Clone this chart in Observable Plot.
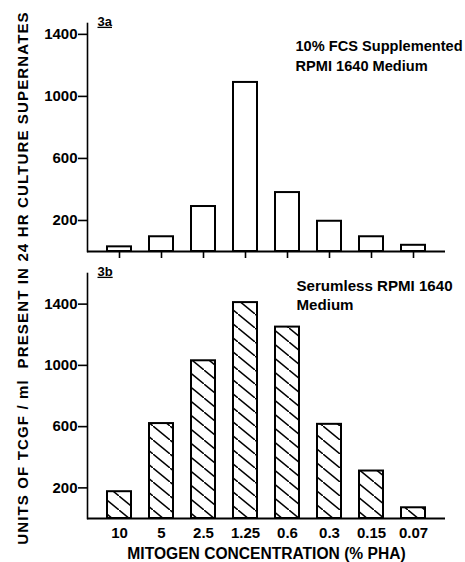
<!DOCTYPE html>
<html>
<head>
<meta charset="utf-8">
<script src="https://cdn.jsdelivr.net/npm/d3@7"></script>
<script src="https://cdn.jsdelivr.net/npm/@observablehq/plot@0.6"></script>
<style>
  html, body { margin: 0; padding: 0; background: #fff; }
  #wrap { position: relative; width: 465px; height: 562px; overflow: hidden; font-family: "Liberation Sans", Arial, sans-serif; background: #fff; }
  #wrap svg { position: absolute; left: 0; overflow: visible; }
  #ytitle { position: absolute; left: 22px; top: 278px; transform: translate(-50%, -50%) rotate(-90deg); z-index: 5;
    white-space: nowrap; font-size: 15px; font-weight: bold; color: #000; letter-spacing: 1.15px; }
</style>
</head>
<body>
<div id="wrap"><div id="ytitle">UNITS OF TCGF / ml&nbsp;&nbsp;PRESENT IN 24 HR CULTURE SUPERNATES</div></div>
<script>
const concentrations = ["10", "5", "2.5", "1.25", "0.6", "0.3", "0.15", "0.07"];
const fcsValues = [30, 95, 290, 1090, 380, 195, 95, 40];
const serumlessValues = [175, 620, 1030, 1410, 1250, 615, 310, 70];
const yTicks = [200, 600, 1000, 1400];
const xTitle = "MITOGEN CONCENTRATION (% PHA)";
const topLabel = "3a";
const bottomLabel = "3b";
const topNote = "10% FCS Supplemented\nRPMI 1640 Medium";
const bottomNote = "Serumless RPMI 1640\nMedium";

const topData = concentrations.map((c, i) => ({conc: c, value: fcsValues[i]}));
const bottomData = concentrations.map((c, i) => ({conc: c, value: serumlessValues[i]}));

const font = {fontFamily: "'Liberation Sans', Arial, sans-serif", fontSize: "15px", fontWeight: "bold", color: "black"};
const xScale = {domain: concentrations, paddingInner: 0.43, paddingOuter: 0.476, align: 0.5};
const fmt = d => String(d);

const wrap = document.getElementById("wrap");

const topPlot = Plot.plot({
  width: 465, height: 258,
  marginLeft: 87, marginRight: 20, marginTop: 23, marginBottom: 7,
  style: font,
  x: {...xScale, axis: null},
  y: {domain: [0, 1470], axis: null},
  marks: [
    Plot.barY(topData, {x: "conc", y: "value", fill: "white", stroke: "black", strokeWidth: 2}),
    Plot.ruleY([0], {strokeWidth: 2}),
    Plot.frame({anchor: "left", strokeWidth: 1.6}),
    Plot.axisY({ticks: yTicks, tickFormat: fmt, tickSize: 9, tickPadding: 1, strokeWidth: 1.6, label: null}),
    Plot.axisX({tickSize: 7, tickFormat: () => "", strokeWidth: 1.6, label: null}),
    Plot.text([topLabel], {frameAnchor: "top-left", dx: 10, dy: -7, textAnchor: "start", lineAnchor: "top", fontSize: 13}),
    Plot.text([topNote], {frameAnchor: "top-left", dx: 208, dy: 14, textAnchor: "start", lineAnchor: "top", fontSize: 14.6, lineHeight: 1.35})
  ]
});
topPlot.style.top = "0px";
wrap.appendChild(topPlot);

const bottomPlot = Plot.plot({
  width: 465, height: 304,
  marginLeft: 87, marginRight: 20, marginTop: 15, marginBottom: 44,
  style: font,
  x: {...xScale, axis: null},
  y: {domain: [0, 1600], axis: null},
  marks: [
    Plot.barY(bottomData, {x: "conc", y: "value", fill: "white"}),
    Plot.barY(bottomData, {x: "conc", y: "value", fill: "url(#hatch)", stroke: "black", strokeWidth: 2}),
    Plot.ruleY([0], {strokeWidth: 2}),
    Plot.frame({anchor: "left", strokeWidth: 1.6}),
    Plot.axisY({ticks: yTicks, tickFormat: fmt, tickSize: 9, tickPadding: 1, strokeWidth: 1.6, label: null}),
    Plot.axisX({tickSize: 0, tickPadding: 9, label: null}),
    Plot.text([xTitle], {frameAnchor: "bottom", dy: 40, lineAnchor: "bottom", fontSize: 15.6}),
    Plot.text([bottomLabel], {frameAnchor: "top-left", dx: 10, dy: -7, textAnchor: "start", lineAnchor: "top", fontSize: 13}),
    Plot.text([bottomNote], {frameAnchor: "top-left", dx: 209, dy: 4, textAnchor: "start", lineAnchor: "top", fontSize: 15.1, lineHeight: 1.25})
  ]
});
bottomPlot.style.top = "258px";
const ns = "http://www.w3.org/2000/svg";
const defs = document.createElementNS(ns, "defs");
defs.innerHTML = '<pattern id="hatch" patternUnits="userSpaceOnUse" width="17" height="14"><path d="M-3.4,-2.8 L20.4,16.8" stroke="black" stroke-width="1.5" fill="none"/></pattern>';
bottomPlot.insertBefore(defs, bottomPlot.firstChild);
wrap.appendChild(bottomPlot);

d3.selectAll("#wrap svg text").filter(function() { return this.textContent === topLabel || this.textContent === bottomLabel; })
  .style("text-decoration", "underline");
</script>
</body>
</html>
